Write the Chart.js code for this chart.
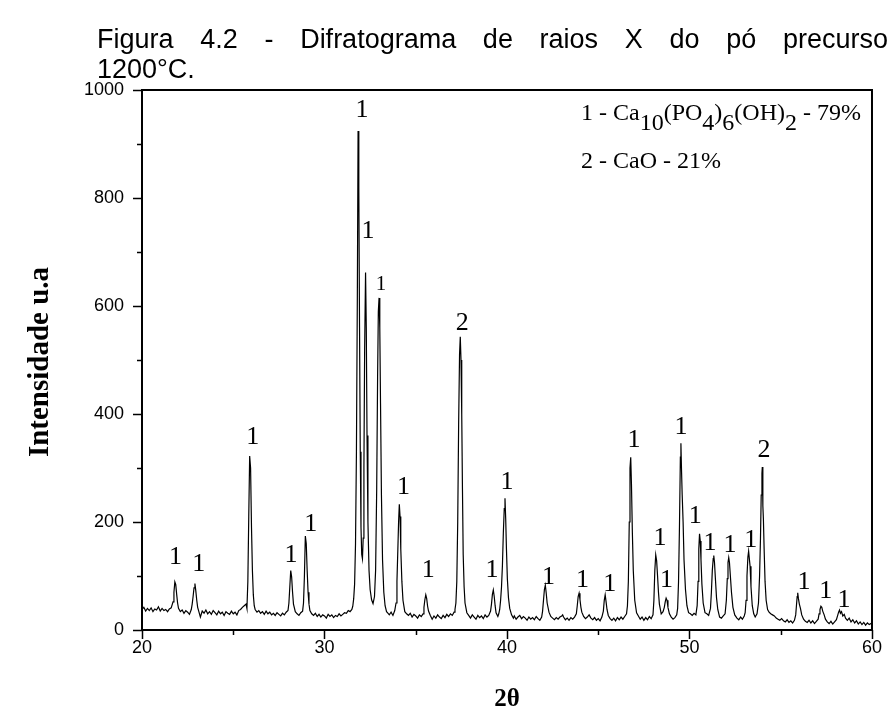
<!DOCTYPE html>
<html>
<head>
<meta charset="utf-8">
<script src="https://cdn.jsdelivr.net/npm/chart.js@4.4.0/dist/chart.umd.min.js"></script>
<style>
  html, body { margin: 0; padding: 0; background: #fff; overflow: hidden; }
  #wrap { width: 889px; height: 712px; position: relative; }
</style>
</head>
<body>
<div id="wrap"><canvas id="xrd" width="889" height="712"></canvas></div>
<script>
// difratograma (2theta em graus, intensidade u.a)
var angle = [
  20.0, 20.1, 20.2, 20.3, 20.4, 20.5, 20.6, 20.7, 20.8, 20.9,
  21.0, 21.1, 21.2, 21.3, 21.4, 21.5, 21.6,
  21.7, 21.75, 21.8, 21.85, 21.9, 21.95, 22.0, 22.1, 22.2,
  22.3, 22.4, 22.5, 22.6, 22.7,
  22.75, 22.8, 22.85, 22.9, 22.95, 23.0, 23.05, 23.1, 23.2,
  23.3, 23.4, 23.5, 23.6, 23.7, 23.8, 23.9, 24.0, 24.1, 24.2,
  24.3, 24.4, 24.5, 24.6, 24.7, 24.8, 24.9, 25.0, 25.1, 25.2,
  25.3, 25.4, 25.5, 25.6, 25.7, 25.75,
  25.8, 25.85, 25.9, 25.95, 26.0, 26.05, 26.1, 26.15, 26.2, 26.3,
  26.4, 26.5, 26.6, 26.7, 26.8, 26.9, 27.0, 27.1, 27.2, 27.3,
  27.4, 27.5, 27.6, 27.7, 27.8, 27.9, 28.0,
  28.05, 28.1, 28.15, 28.2, 28.25, 28.3, 28.4, 28.5, 28.6, 28.7,
  28.8, 28.85, 28.9, 28.95, 29.0, 29.05, 29.1, 29.15, 29.2, 29.3,
  29.4, 29.5, 29.6, 29.7, 29.8, 29.9, 30.0, 30.1, 30.2, 30.3,
  30.4, 30.5, 30.6, 30.7, 30.8, 30.9, 31.0, 31.1, 31.2, 31.3,
  31.4, 31.5, 31.55, 31.6, 31.65, 31.7, 31.75, 31.8, 31.84, 31.88,
  31.92, 31.96, 32.0, 32.04, 32.08, 32.12, 32.16, 32.2, 32.25, 32.29,
  32.33, 32.38, 32.44, 32.5, 32.58, 32.66, 32.74, 32.8, 32.86, 32.91,
  32.95, 32.99, 33.03, 33.07, 33.12, 33.18, 33.25, 33.32, 33.4,
  33.45, 33.55, 33.65, 33.75, 33.85, 33.92,
  33.97, 34.02, 34.06, 34.1, 34.14, 34.18, 34.24, 34.3, 34.4, 34.5,
  34.6, 34.7, 34.8, 34.9, 35.0, 35.1, 35.2, 35.3, 35.4,
  35.45, 35.5, 35.55, 35.6, 35.65, 35.7, 35.8, 35.9,
  36.0, 36.1, 36.2, 36.3, 36.4, 36.5, 36.6, 36.7, 36.8, 36.9,
  37.0, 37.1, 37.15, 37.2, 37.25, 37.3, 37.35, 37.4, 37.44, 37.48,
  37.52, 37.56, 37.6, 37.65, 37.7, 37.8, 37.9,
  38.0, 38.1, 38.2, 38.3, 38.4, 38.5, 38.6, 38.7, 38.8, 38.9,
  39.0, 39.1,
  39.15, 39.2, 39.25, 39.3, 39.35, 39.4, 39.5, 39.55,
  39.6, 39.65, 39.7, 39.75, 39.8, 39.85, 39.89, 39.93, 39.97, 40.02,
  40.08, 40.15, 40.25, 40.35,
  40.4, 40.5, 40.6, 40.7, 40.8, 40.9, 41.0, 41.1, 41.2, 41.3,
  41.4, 41.5, 41.6, 41.7, 41.8, 41.9,
  41.95, 42.0, 42.05, 42.1, 42.15, 42.2, 42.3, 42.4, 42.5,
  42.6, 42.7, 42.8, 42.9, 43.0, 43.05, 43.1, 43.2, 43.3, 43.4,
  43.5, 43.6, 43.7, 43.8,
  43.85, 43.9, 43.95, 44.0, 44.05, 44.1, 44.2, 44.3,
  44.4, 44.5, 44.6, 44.7, 44.8, 44.9, 45.0, 45.1, 45.2,
  45.28, 45.33, 45.38, 45.43, 45.48, 45.55, 45.65, 45.75,
  45.85, 45.95, 46.05, 46.15, 46.25, 46.35, 46.45, 46.55,
  46.6, 46.65, 46.7, 46.74, 46.78, 46.82, 46.87, 46.92, 47.0, 47.1,
  47.2, 47.3, 47.4, 47.5, 47.6, 47.7, 47.8, 47.9, 48.0,
  48.05, 48.1, 48.15, 48.2, 48.25, 48.3, 48.35, 48.45, 48.55,
  48.62, 48.67, 48.72, 48.77, 48.82, 48.9, 49.0, 49.1, 49.2, 49.3,
  49.35, 49.4, 49.45, 49.5, 49.53, 49.56, 49.6, 49.65, 49.7, 49.78,
  49.86, 49.95, 50.05, 50.15, 50.25, 50.35,
  50.42, 50.47, 50.51, 50.55, 50.59, 50.63, 50.68, 50.75, 50.85, 50.95,
  51.05, 51.15, 51.2, 51.25, 51.3, 51.33, 51.37, 51.42, 51.48, 51.55,
  51.65, 51.75, 51.85, 51.95,
  52.02, 52.07, 52.11, 52.15, 52.19, 52.24, 52.3, 52.38, 52.48, 52.6,
  52.7, 52.8, 52.9, 53.0, 53.05,
  53.1, 53.15, 53.2, 53.24, 53.28, 53.32, 53.37, 53.44, 53.52, 53.6,
  53.7, 53.78,
  53.84, 53.89, 53.93, 53.97, 53.99, 54.02, 54.05, 54.09, 54.14, 54.2,
  54.28, 54.36, 54.45, 54.55, 54.65, 54.75, 54.85, 54.95, 55.05, 55.15,
  55.25, 55.35, 55.45, 55.55, 55.65, 55.75, 55.82,
  55.86, 55.9, 55.93, 55.97, 56.02, 56.08, 56.15, 56.25, 56.35,
  56.45, 56.55, 56.65, 56.75, 56.85, 56.95, 57.05, 57.1,
  57.15, 57.2, 57.25, 57.3, 57.38, 57.45, 57.55,
  57.65, 57.75, 57.85, 57.95, 58.05, 58.12,
  58.17, 58.22, 58.27, 58.33, 58.4, 58.48, 58.55,
  58.65, 58.75, 58.85, 58.95, 59.05, 59.15, 59.25, 59.35, 59.45, 59.55,
  59.65, 59.75, 59.85, 59.95, 60.0
];
var counts = [
  38, 42, 35, 40, 36, 41, 34, 39, 37, 43,
  35, 40, 36, 38, 34, 39, 41,
  52, 70, 89, 84, 66, 50, 40, 34, 37,
  31, 36, 33, 29, 38,
  48, 62, 78, 86, 72, 55, 42, 36, 24,
  35, 31, 37, 30, 34, 29, 36, 32, 28, 35,
  30, 33, 27, 34, 31, 29, 35, 30, 33, 28,
  36, 38, 42, 45, 48, 40,
  90, 210, 322, 300, 190, 110, 65, 45, 38, 33,
  36, 31, 34, 29, 35, 30, 33, 28, 31, 27,
  32, 29, 26, 31, 28, 33, 36,
  50, 80, 110, 98, 70, 48, 34, 30, 27, 32,
  35, 50, 100, 174, 160, 110, 70, 48, 36, 30,
  27, 31, 25, 29, 24, 28, 26, 22, 29, 25,
  28, 23, 27, 25, 30, 26, 29, 32, 31, 36,
  34, 38, 44, 58, 85, 160, 330, 620, 924, 820,
  560, 330, 190, 140, 132, 170, 300, 520, 662, 560,
  360, 200, 110, 75, 56, 49, 62, 110, 260, 470,
  590, 615, 560, 420, 250, 130, 70, 45, 34,
  32, 28, 33, 27, 36, 50,
  90, 150, 200, 233, 210, 150, 90, 55, 34, 30,
  27, 31, 24, 29, 26, 22, 28, 25, 30,
  42, 56, 65, 58, 44, 35, 27, 20,
  26, 22, 28, 24, 21, 27, 23, 29, 25, 30,
  27, 33, 38, 50, 90, 200, 380, 510, 543, 500,
  400, 260, 140, 80, 50, 32, 27,
  22, 28, 24, 20, 27, 23, 26, 21, 28, 24,
  27, 35,
  48, 66, 74, 62, 45, 32, 25, 30,
  38, 55, 80, 120, 180, 225, 244, 205, 150, 95,
  60, 40, 28, 22,
  26, 20, 24, 27, 21, 25, 22, 18, 24, 20,
  23, 19, 25, 21, 18, 24,
  35, 55, 75, 83, 68, 50, 33, 25, 22,
  19, 23, 20, 24, 26, 28, 24, 19, 22, 18,
  23, 20, 24, 30,
  45, 62, 68, 56, 42, 33, 25, 21,
  24, 28, 22, 19, 23, 18, 21, 17, 24,
  35, 55, 65, 52, 38, 27, 21, 18,
  22, 17, 23, 19, 24, 20, 25, 30,
  45, 90, 200, 300, 320, 270, 180, 110, 55, 32,
  26, 20, 24, 18, 23, 19, 25, 21, 28,
  55, 110, 139, 128, 100, 70, 48, 30, 34,
  42, 52, 59, 55, 42, 30, 24, 20, 23, 28,
  40, 90, 190, 320, 346, 300, 250, 200, 130, 75,
  45, 32, 30, 27, 31, 28,
  45, 90, 150, 178, 165, 130, 85, 50, 32, 30,
  27, 40, 70, 110, 132, 138, 125, 95, 60, 38,
  24, 22, 26, 30,
  55, 95, 125, 134, 125, 100, 70, 42, 28, 22,
  19, 24, 20, 26, 32,
  55, 100, 135, 146, 132, 118, 80, 45, 30, 24,
  30, 50,
  100, 170, 250, 290, 302, 230, 205, 150, 90, 55,
  38, 33, 30, 28, 26, 22, 20, 18, 21, 17,
  15, 19, 14, 17, 13, 18, 28,
  45, 62, 69, 58, 48, 40, 28, 20, 16,
  14, 18, 13, 17, 12, 16, 20, 30,
  38, 44, 42, 35, 28, 20, 15,
  12, 16, 11, 15, 19, 27,
  33, 37, 31, 34, 26, 29, 22,
  18, 22, 15, 19, 13, 17, 11, 15, 10, 14,
  9, 13, 10, 12, 11
];

// identificacao dos picos: 1 = hidroxiapatita, 2 = CaO
var tagText   = ['1', '1', '1', '1', '1', '1', '1', '1', '1', '1', '2', '1', '1', '1',
                 '1', '1', '1', '1', '1', '1', '1', '1', '1', '1', '2', '1', '1', '1'];
var tagAngle  = [21.84, 23.11, 26.07, 28.16, 29.25, 32.06, 32.39, 33.10, 34.33, 35.69, 37.55, 39.18, 40.0, 42.27,
                 44.14, 45.63, 46.96, 48.38, 48.74, 49.54, 50.32, 51.13, 52.22, 53.35, 54.08, 56.28, 57.46, 58.46];
var tagHeight = [134, 122, 358, 139, 196, 962, 738, 640, 264, 111, 568, 111, 273, 98,
                 93, 85, 352, 170, 93, 376, 210, 161, 157, 167, 333, 89, 71, 56];

var yTicks = [0, 200, 400, 600, 800, 1000];
var xTicks = [20, 30, 40, 50, 60];

var titleLine1 = "Figura 4.2 - Difratograma de raios X do pó precursor";
var titleLine2 = "1200°C.";

var points = [];
for (var i = 0; i < angle.length; i++) {
    points.push({ x: angle[i], y: counts[i] });
}

var sansFont = '"Liberation Sans", Arial, sans-serif';
var serifFont = '"Liberation Serif", "Times New Roman", serif';

var decor = {
    id: "decor",
    afterDraw: function (chart) {
        var ctx = chart.ctx;
        var area = chart.chartArea;
        var xs = chart.scales.x;
        var ys = chart.scales.y;
        ctx.save();
        ctx.fillStyle = "#000";
        ctx.strokeStyle = "#000";

        // titulo justificado (cortado na borda direita como no original)
        ctx.font = "27px " + sansFont;
        ctx.textBaseline = "alphabetic";
        ctx.textAlign = "left";
        var words = titleLine1.split(" ");
        var total = 0;
        for (var w = 0; w < words.length - 1; w++) total += ctx.measureText(words[w]).width;
        var lastW = ctx.measureText("precurso").width;
        var gap = (888 - 97 - total - lastW) / (words.length - 1);
        var tx = 97;
        for (w = 0; w < words.length; w++) {
            ctx.fillText(words[w], tx, 48);
            tx += ctx.measureText(words[w]).width + gap;
        }
        ctx.fillText(titleLine2, 97, 78);

        // moldura
        ctx.lineWidth = 2;
        ctx.strokeRect(area.left, area.top, area.right - area.left, area.bottom - area.top);

        // marcas dos eixos
        ctx.lineWidth = 1.5;
        ctx.beginPath();
        for (var v = 0; v <= 1000; v += 100) {
            var py = Math.round(ys.getPixelForValue(v)) + 0.5;
            var len = (v % 200 === 0) ? 9 : 5;
            ctx.moveTo(area.left - len, py);
            ctx.lineTo(area.left, py);
        }
        for (var a = 20; a <= 60; a += 5) {
            var px = Math.round(xs.getPixelForValue(a)) + 0.5;
            var l2 = (a % 10 === 0) ? 9 : 5;
            ctx.moveTo(px, area.bottom);
            ctx.lineTo(px, area.bottom + l2);
        }
        ctx.stroke();

        // rotulos dos picos
        ctx.textAlign = "center";
        ctx.textBaseline = "middle";
        for (var k = 0; k < tagText.length; k++) {
            ctx.font = (k === 7 ? "21px " : "26px ") + serifFont;
            ctx.fillText(tagText[k], xs.getPixelForValue(tagAngle[k]), ys.getPixelForValue(tagHeight[k]));
        }

        // legenda
        ctx.textAlign = "left";
        ctx.textBaseline = "alphabetic";
        ctx.font = "24px " + serifFont;
        var parts = [["1 - Ca", 0], ["10", 10], ["(PO", 0], ["4", 10], [")", 0], ["6", 10], ["(OH)", 0], ["2", 10], [" - 79%", 0]];
        var lx = 581;
        for (var p = 0; p < parts.length; p++) {
            ctx.fillText(parts[p][0], lx, 120 + parts[p][1]);
            lx += ctx.measureText(parts[p][0]).width;
        }
        ctx.fillText("2 - CaO - 21%", 581, 168);

        // titulos dos eixos
        ctx.textAlign = "center";
        ctx.textBaseline = "middle";
        ctx.font = "bold 25px " + serifFont;
        ctx.fillText("2θ", (area.left + area.right) / 2, 700);
        ctx.font = "bold 29px " + serifFont;
        ctx.translate(41, 362);
        ctx.rotate(-Math.PI / 2);
        ctx.fillText("Intensidade u.a", 0, 0);
        ctx.restore();
    }
};

new Chart(document.getElementById("xrd"), {
    type: "line",
    data: {
        datasets: [{
            data: points,
            borderColor: "#000",
            borderWidth: 1.2,
            pointRadius: 0,
            tension: 0,
            fill: false
        }]
    },
    options: {
        responsive: false,
        animation: false,
        layout: { padding: { left: 0, top: 90, right: 13, bottom: 0 } },
        plugins: { legend: { display: false }, tooltip: { enabled: false } },
        scales: {
            x: {
                type: "linear",
                min: 20, max: 60,
                afterFit: function (s) { s.height = 82; },
                afterBuildTicks: function (s) { s.ticks = xTicks.map(function (t) { return { value: t }; }); },
                grid: { display: false, drawTicks: false },
                border: { display: false },
                ticks: {
                    color: "#000", padding: 7, font: { family: sansFont, size: 18 },
                    callback: function (v) { return String(v); }
                }
            },
            y: {
                type: "linear",
                min: 0, max: 1000,
                afterFit: function (s) { s.width = 142; },
                afterBuildTicks: function (s) { s.ticks = yTicks.map(function (t) { return { value: t }; }); },
                grid: { display: false, drawTicks: false },
                border: { display: false },
                ticks: {
                    color: "#000", padding: 18, font: { family: sansFont, size: 18 },
                    callback: function (v) { return String(v); }
                }
            }
        }
    },
    plugins: [decor]
});
</script>
</body>
</html>
